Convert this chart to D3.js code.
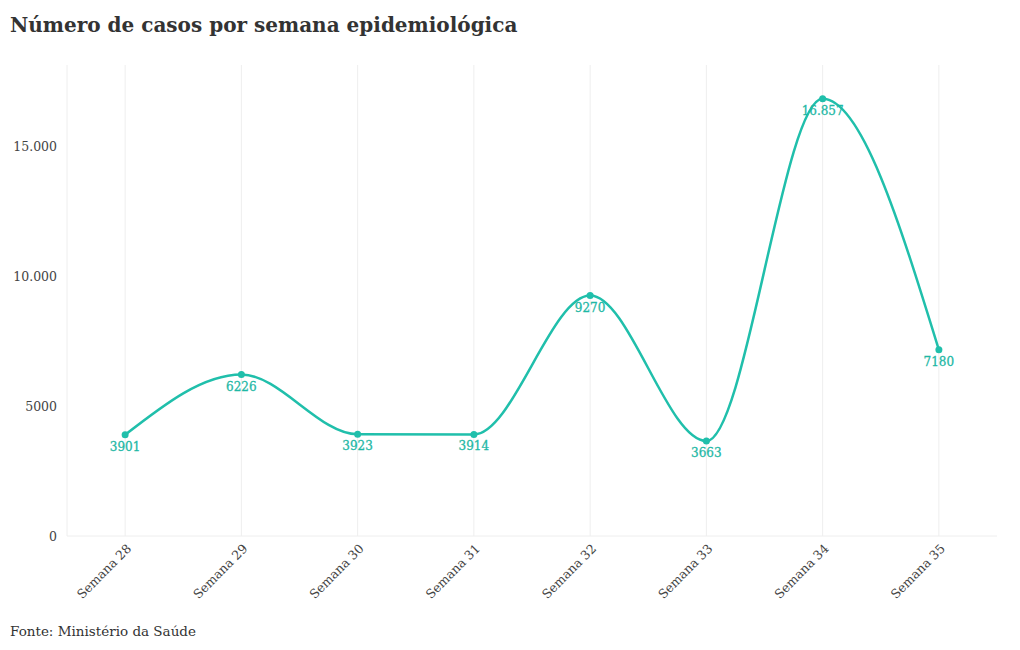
<!DOCTYPE html>
<html><head><meta charset="utf-8">
<script src="https://cdn.jsdelivr.net/npm/d3@7"></script>
<style>body{margin:0;background:#fff;} svg{display:block;}</style>
</head><body>
<svg id="chart" width="1020" height="650"></svg>
<script>
const categories = ["Semana 28","Semana 29","Semana 30","Semana 31","Semana 32","Semana 33","Semana 34","Semana 35"];
const cases = [3901, 6226, 3923, 3914, 9270, 3663, 16857, 7180];
const caseLabels = ["3901","6226","3923","3914","9270","3663","16.857","7180"];
const yTicks = [0, 5000, 10000, 15000];
const yTickLabels = ["0","5000","10.000","15.000"];
const titleText = "Número de casos por semana epidemiológica";
const sourceText = "Fonte: Ministério da Saúde";

const FONT = "'DejaVu Serif', serif";
const TEAL = "#20bfab";
const svg = d3.select("#chart");
const L = 67, R = 997, T = 65, B = 536;

const x = d3.scaleLinear().domain([-0.5, categories.length - 0.5]).range([L, R]);
const y = d3.scaleLinear().domain([0, 18160]).range([B, T]);

// vertical grid
svg.append("g").selectAll("line").data(categories).join("line")
  .attr("x1", (d,i)=>x(i)).attr("x2", (d,i)=>x(i))
  .attr("y1", T).attr("y2", B).attr("stroke", "#eeeeee").attr("stroke-width", 1);
// bottom line
svg.append("line").attr("x1", L).attr("x2", R).attr("y1", y(0)).attr("y2", y(0))
  .attr("stroke", "#eeeeee").attr("stroke-width", 1);
// left line
svg.append("line").attr("x1", L).attr("x2", L).attr("y1", T).attr("y2", B)
  .attr("stroke", "#eeeeee").attr("stroke-width", 1);

// y axis
const yAxis = d3.axisLeft(y).tickValues(yTicks).tickFormat((d,i)=>yTickLabels[i]).tickSize(0).tickPadding(10);
const gy = svg.append("g").attr("transform", `translate(${L},0)`).call(yAxis);
gy.select(".domain").remove();
gy.selectAll("text").attr("font-family", FONT).attr("font-size", 12.5).attr("fill", "#444");

// x axis
const xAxis = d3.axisBottom(x).tickValues(d3.range(categories.length)).tickFormat(i=>categories[i]).tickSize(0).tickPadding(0);
const gx = svg.append("g").attr("transform", `translate(0,${B})`).call(xAxis);
gx.select(".domain").remove();
gx.selectAll("text").attr("font-family", FONT).attr("font-size", 12.5).attr("fill", "#444")
  .attr("text-anchor", "end").attr("dy", null).attr("y", 0)
  .attr("transform", "translate(4,11) rotate(-45)").attr("dominant-baseline", "middle");

// line
const line = d3.line().x((d,i)=>x(i)).y(d=>y(d)).curve(d3.curveMonotoneX);
svg.append("path").datum(cases).attr("d", line).attr("fill", "none")
  .attr("stroke", TEAL).attr("stroke-width", 2.5);
svg.append("g").selectAll("circle").data(cases).join("circle")
  .attr("cx", (d,i)=>x(i)).attr("cy", d=>y(d)).attr("r", 3.5).attr("fill", TEAL);
svg.append("g").selectAll("text").data(cases).join("text")
  .attr("x", (d,i)=>x(i)).attr("y", d=>y(d) + 16)
  .attr("text-anchor", "middle").attr("font-family", FONT).attr("font-size", 12)
  .attr("fill", "#1fb8a5").attr("stroke", "#1fb8a5").attr("stroke-width", 0.3)
  .text((d,i)=>caseLabels[i]);

// title
svg.append("text").attr("x", 10).attr("y", 32).attr("font-family", FONT)
  .attr("font-weight", "bold").attr("font-size", 20).attr("fill", "#333").text(titleText);
// source
svg.append("text").attr("x", 10).attr("y", 636).attr("font-family", FONT)
  .attr("font-size", 13.5).attr("fill", "#333").text(sourceText);
</script>
</body></html>
